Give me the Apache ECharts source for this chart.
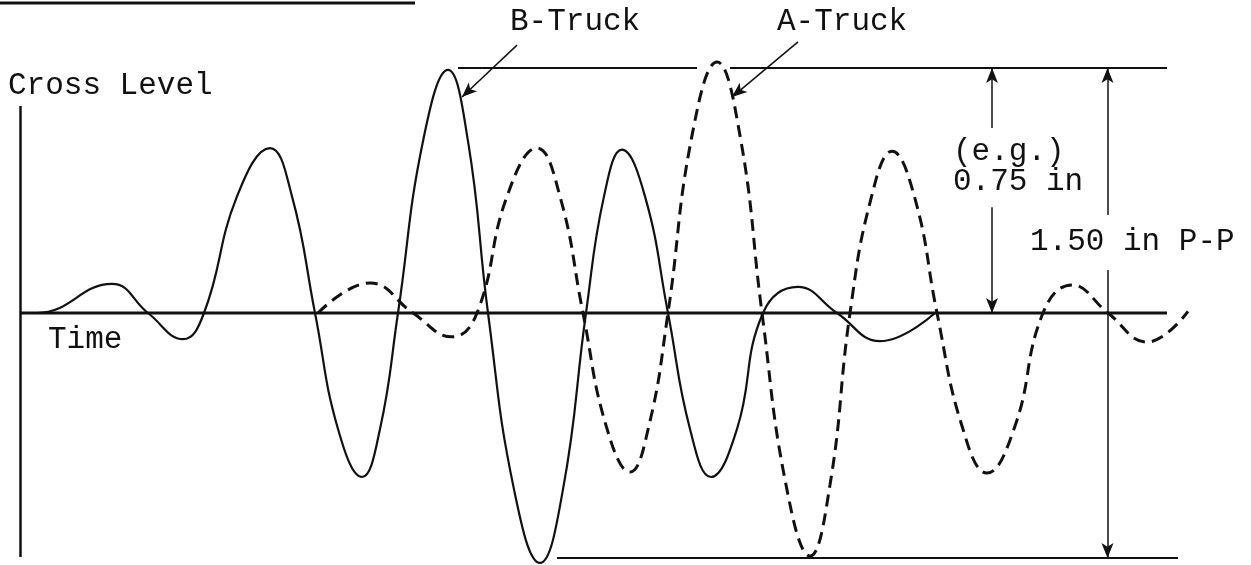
<!DOCTYPE html>
<html>
<head>
<meta charset="utf-8">
<script src="https://cdn.jsdelivr.net/npm/echarts@6/dist/echarts.min.js"></script>
<style>
  html, body { margin: 0; padding: 0; background: #fff; }
  #chart { width: 1251px; height: 565px; }
</style>
</head>
<body>
<div id="chart"></div>
<script>
// ---- Data (time units, cross level in inches) ----
const bTime = [0, 1.7, 9.2, 12.8, 16.3, 18.4, 21.7, 25.0, 27.2, 29.5, 31.8, 34.2, 36.0, 37.8, 40.3, 42.8, 44.8, 46.8, 49.4, 52.0, 54.3, 56.6, 58.4, 60.2, 62.5, 64.8, 67.0, 69.1, 71.7, 74.3, 77.8, 81.7, 86.0, 91.5];
const bLevel = [0, 0, 0.089, 0, -0.080, 0, 0.357, 0.505, 0.357, 0, -0.355, -0.502, -0.355, 0, 0.526, 0.744, 0.526, 0, -0.54, -0.765, -0.54, 0, 0.357, 0.500, 0.357, 0, -0.355, -0.502, -0.355, 0, 0.080, 0, -0.086, 0];

const aTime = [29.8, 35.0, 39.3, 43.2, 45.7, 48.7, 51.7, 54.0, 56.3, 58.6, 61.0, 62.9, 64.8, 67.2, 69.7, 72.0, 74.2, 76.6, 79.0, 81.0, 83.0, 85.1, 87.2, 89.5, 91.7, 94.2, 96.7, 99.5, 102.3, 105.2, 108.8, 112.7, 116.8];
const aLevel = [0, 0.092, 0, -0.073, 0, 0.357, 0.505, 0.357, 0, -0.344, -0.487, -0.344, 0, 0.543, 0.768, 0.543, 0, -0.526, -0.744, -0.526, 0, 0.350, 0.495, 0.350, 0, -0.346, -0.490, -0.346, 0, 0.086, 0, -0.089, 0.005];

const timeAxisLine = [[0, 0], [114.7, 0]];
const crossLevelAxis = [[0, 0.634], [0, -0.747]];
const peakLines = [
  [[43.8, 0.75], [67.7, 0.75]],
  [[71.0, 0.75], [114.7, 0.75]],
  [[53.7, -0.75], [115.8, -0.75]]
];
const dimArrows = [
  [[97.2, 0.566], [97.2, 0.75]],
  [[97.2, 0.324], [97.2, 0]],
  [[108.75, 0.30], [108.75, 0.75]],
  [[108.75, 0.132], [108.75, -0.75]]
];
const pointerArrows = [
  [[49.7, 0.820], [44.2, 0.661]],
  [[77.8, 0.830], [71.2, 0.661]]
];

const labels = {
  yName: 'Cross Level',
  xName: 'Time',
  b: 'B-Truck',
  a: 'A-Truck',
  eg: '(e.g.)',
  amp: '0.75 in',
  pp: '1.50 in P-P'
};

// ---- Chart ----
const INK = '#111';
const FONT = '"Liberation Mono", "Courier New", monospace';
const zip = (xs, ys) => xs.map((x, i) => [x, ys[i]]);
const segs = (list, arrow) => list.map(p => [
  { coord: p[0], symbol: 'none' },
  { coord: p[1], symbol: arrow ? 'arrow' : 'none' }
]);

const Y_MIN = -0.77, Y_MAX = 0.95, PX_PER_IN = 326.6667;
const gridTop = 68 - (Y_MAX - 0.75) * PX_PER_IN;
const gridBottom = 565 - (gridTop + (Y_MAX - Y_MIN) * PX_PER_IN);

const chart = echarts.init(document.getElementById('chart'), null, { renderer: 'canvas' });
const txt = (text, x, y, align) => ({
  type: 'text', x: x, y: y, silent: true,
  style: { text: text, fill: INK, font: '31px ' + FONT, textAlign: align || 'left', textVerticalAlign: 'middle' }
});

chart.setOption({
  animation: false,
  backgroundColor: '#fff',
  grid: { left: 20, right: 31, top: gridTop, bottom: gridBottom },
  xAxis: { type: 'value', min: 0, max: 120, show: false },
  yAxis: { type: 'value', min: Y_MIN, max: Y_MAX, show: false },
  series: [
    {
      name: 'Time axis', type: 'line', data: timeAxisLine, showSymbol: false, clip: false, silent: true,
      lineStyle: { color: INK, width: 3 },
      markLine: {
        silent: true, animation: false, label: { show: false },
        lineStyle: { type: 'solid', color: INK, width: 2.5 },
        data: segs([crossLevelAxis], false)
      },
      z: 2
    },
    {
      name: 'Peak lines', type: 'line', data: [], clip: false, silent: true,
      markLine: {
        silent: true, animation: false, label: { show: false },
        lineStyle: { type: 'solid', color: INK, width: 1.8 },
        data: segs(peakLines, false)
      }
    },
    {
      name: 'Dimension arrows', type: 'line', data: [], clip: false, silent: true,
      markLine: {
        silent: true, animation: false, label: { show: false },
        symbolSize: [9, 15],
        lineStyle: { type: 'solid', color: INK, width: 1.5 },
        data: segs(dimArrows, true).concat(segs(pointerArrows, true))
      }
    },
    {
      name: labels.b, type: 'line', data: zip(bTime, bLevel), smooth: 0.45,
      showSymbol: false, clip: false, silent: true,
      lineStyle: { color: INK, width: 2.2 }, z: 3
    },
    {
      name: labels.a, type: 'line', data: zip(aTime, aLevel), smooth: 0.45,
      showSymbol: false, clip: false, silent: true,
      lineStyle: { color: INK, width: 3, type: [12, 7] }, z: 3
    }
  ],
  graphic: [
    { type: 'line', silent: true, shape: { x1: 0, y1: 3, x2: 415, y2: 3 }, style: { stroke: INK, lineWidth: 3 } },
    txt(labels.yName, 8, 86),
    txt(labels.xName, 48, 340),
    txt(labels.b, 510, 22),
    txt(labels.a, 777, 22),
    txt(labels.eg, 953, 152),
    txt(labels.amp, 953, 182),
    txt(labels.pp, 1030, 242)
  ]
});
</script>
</body>
</html>
